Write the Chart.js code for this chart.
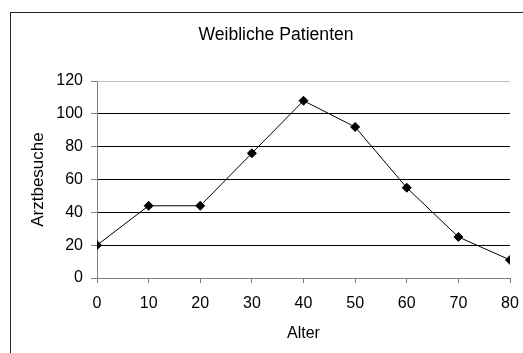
<!DOCTYPE html>
<html>
<head>
<meta charset="utf-8">
<script src="https://cdn.jsdelivr.net/npm/chart.js@4/dist/chart.umd.min.js"></script>
<style>
  html, body { margin: 0; padding: 0; background: #fff; }
  canvas { display: block; }
</style>
</head>
<body>
<canvas id="chart" width="523" height="353"></canvas>
<script>
// Age groups and number of doctor visits
const ages = [0, 10, 20, 30, 40, 50, 60, 70, 80];
const visits = [20, 44, 44, 76, 108, 92, 55, 25, 11];
const yTickValues = [0, 20, 40, 60, 80, 100, 120];
const xTickValues = [0, 10, 20, 30, 40, 50, 60, 70, 80];

const chartTitle = 'Weibliche Patienten';
const xAxisTitle = 'Alter';
const yAxisTitle = 'Arztbesuche';

const FONT = '"Liberation Sans", Arial, Helvetica, sans-serif';
const AXIS_GREY = '#808080';

// Thin dark frame around the whole chart
const framePlugin = {
  id: 'frame',
  beforeDraw(chart) {
    const ctx = chart.ctx;
    ctx.save();
    ctx.fillStyle = '#fff';
    ctx.fillRect(0, 0, chart.width, chart.height);
    ctx.strokeStyle = '#222';
    ctx.lineWidth = 1;
    ctx.strokeRect(10.5, 12.5, 1000, 1000);
    ctx.restore();
  }
};

new Chart(document.getElementById('chart'), {
  type: 'line',
  data: {
    datasets: [{
      data: ages.map((a, i) => ({ x: a, y: visits[i] })),
      borderColor: '#000',
      borderWidth: 1,
      backgroundColor: '#000',
      pointStyle: 'rectRot',
      pointRadius: 4.5,
      pointBorderWidth: 1,
      pointBackgroundColor: '#000',
      pointBorderColor: '#000',
      tension: 0,
      fill: false
    }]
  },
  options: {
    responsive: false,
    animation: false,
    layout: { padding: { left: 29, right: 0, top: 0, bottom: 0 } },
    plugins: {
      legend: { display: false },
      tooltip: { enabled: false },
      title: {
        display: true,
        text: chartTitle,
        color: '#000',
        font: { family: FONT, size: 17.6, weight: 'normal' },
        padding: { top: 24.2, bottom: 35.7 }
      }
    },
    scales: {
      x: {
        type: 'linear',
        min: 0,
        max: 80,
        afterBuildTicks: (scale) => { scale.ticks = xTickValues.map(v => ({ value: v })); },
        afterFit: (scale) => {
          scale.height = 75;
          scale.paddingRight = 13;
        },
        ticks: {
          color: '#000',
          font: { family: FONT, size: 16 },
          padding: 11.4,
          maxRotation: 0,
          autoSkip: false
        },
        grid: {
          drawOnChartArea: false,
          drawTicks: true,
          tickLength: 5,
          tickColor: AXIS_GREY,
          color: AXIS_GREY
        },
        border: { display: true, color: AXIS_GREY, width: 1 },
        title: {
          display: true,
          text: xAxisTitle,
          color: '#000',
          font: { family: FONT, size: 16 },
          padding: { top: 0, bottom: 9.4 }
        }
      },
      y: {
        type: 'linear',
        position: 'left',
        min: 0,
        max: 120,
        afterBuildTicks: (scale) => { scale.ticks = yTickValues.map(v => ({ value: v })); },
        afterFit: (scale) => { scale.width = 68; },
        ticks: {
          color: '#000',
          font: { family: FONT, size: 16 },
          padding: 8
        },
        grid: {
          drawTicks: true,
          tickLength: 6,
          tickColor: AXIS_GREY,
          lineWidth: 1,
          color: (c) => {
            if (!c.tick) return '#000';
            if (c.tick.value === 120) return '#c0c0c0';
            if (c.tick.value === 0) return AXIS_GREY;
            return '#000';
          }
        },
        border: { display: true, color: AXIS_GREY, width: 1 },
        title: {
          display: true,
          text: yAxisTitle,
          color: '#000',
          font: { family: FONT, size: 17, lineHeight: 1 },
          padding: { top: 1, bottom: 0 }
        }
      }
    }
  },
  plugins: [framePlugin]
});
</script>
</body>
</html>
